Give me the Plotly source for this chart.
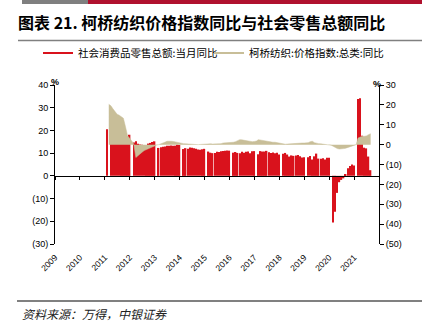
import pandas as pd
import plotly.graph_objects as go

# ---------------- data ----------------
# 社会消费品零售总额:当月同比 (%), monthly, Jan 2011 .. Aug 2021 (None = not published)
retail_2011 = [20.5, None, 17.4, 17.1, 16.9, 17.7, 17.2, 17.0, 17.7, 17.2, 17.3, 18.1]
retail_2012 = [None, 14.7, 15.2, 14.1, 13.8, 13.7, 13.1, 13.2, 14.2, 14.5, 14.9, 15.2]
retail_2013 = [None, 12.3, 12.6, 12.8, 12.9, 13.3, 13.2, 13.4, 13.3, 13.3, 13.7, 13.6]
retail_2014 = [None, 11.8, 12.2, 11.9, 12.5, 12.4, 12.2, 11.9, 11.6, 11.5, 11.7, 11.9]
retail_2015 = [None, 10.7, 10.2, 10.0, 10.1, 10.6, 10.5, 10.8, 10.9, 11.0, 11.2, 11.1]
retail_2016 = [None, 10.2, 10.5, 10.1, 10.0, 10.6, 10.2, 10.6, 10.7, 10.0, 10.8, 10.9]
retail_2017 = [None, 9.5, 10.9, 10.7, 10.7, 11.0, 10.4, 10.1, 10.3, 10.0, 10.2, 9.4]
retail_2018 = [None, 9.7, 10.1, 9.4, 8.5, 9.0, 8.8, 9.0, 9.2, 8.6, 8.1, 8.2]
retail_2019 = [None, 8.2, 8.7, 7.2, 8.6, 9.8, 7.6, 7.5, 7.8, 7.2, 8.0, 8.0]
retail_2020 = [None, -20.5, -15.8, -7.5, -2.8, -1.8, -1.1, 0.5, 3.3, 4.3, 5.0, 4.6]
retail_2021 = [None, 33.8, 34.2, 17.7, 12.4, 12.1, 8.5, 2.5]
retail_start = "2011-01-31"

# 柯桥纺织:价格指数:总类:同比 (%), monthly, Feb 2011 .. Aug 2021
keqiao_2011 = [20.3, 19.5, 18.0, 16.5, 15.3, 14.8, 14.2, 13.3, 9.0, 4.5, 3.2]
keqiao_2012 = [1.5, 0.5, -6.5, -5.5, -4.5, -3.8, -3.0, -2.5, -2.0, -1.6, -1.0, -0.5]
keqiao_2013 = [-0.2, 0.0, 0.3, 0.8, 1.2, 1.7, 1.8, 1.7, 1.6, 1.3, 1.0, 0.8]
keqiao_2014 = [0.7, 0.5, 0.4, 0.3, 0.2, 0.2, 0.2, 0.1, 0.0, 0.1, 0.2, 0.3]
keqiao_2015 = [0.5, 0.5, 0.4, 0.3, 0.3, 0.3, 0.3, 0.5, 0.8, 0.9, 0.8, 0.8]
keqiao_2016 = [1.0, 1.2, 1.5, 2.0, 2.5, 2.4, 2.2, 2.0, 1.6, 1.5, 1.5, 1.6]
keqiao_2017 = [1.8, 2.5, 2.3, 1.8, 1.6, 1.5, 1.4, 1.3, 1.2, 1.2, 1.0, 0.7]
keqiao_2018 = [0.4, 0.3, 0.2, 0.3, 0.4, 0.6, 0.7, 0.8, 0.7, 0.8, 0.8, 0.8]
keqiao_2019 = [0.9, 1.0, 1.5, 1.7, 1.0, 0.6, 0.5, 0.4, 0.3, 0.3, 0.2, 0.1]
keqiao_2020 = [-0.3, -0.8, -1.5, -2.0, -2.2, -2.2, -2.0, -1.8, -1.5, -1.2, -0.8, -0.3]
keqiao_2021 = [0.0, 3.3, 3.8, 4.2, 4.2, 4.4, 5.0, 5.5]
keqiao_start = "2011-02-28"

years = list(range(2009, 2022))
left_ticks = [-30, -20, -10, 0, 10, 20, 30, 40]
right_ticks = [-50, -40, -30, -20, -10, 0, 10, 20, 30]

name_retail = "社会消费品零售总额:当月同比"
name_keqiao = "柯桥纺织:价格指数:总类:同比"
title_text = "图表 21. 柯桥纺织价格指数同比与社会零售总额同比"
source_text = "资料来源：万得，中银证券"

# ---------------- build ----------------
retail = (retail_2011 + retail_2012 + retail_2013 + retail_2014 + retail_2015 + retail_2016
          + retail_2017 + retail_2018 + retail_2019 + retail_2020 + retail_2021)
keqiao = (keqiao_2011 + keqiao_2012 + keqiao_2013 + keqiao_2014 + keqiao_2015 + keqiao_2016
          + keqiao_2017 + keqiao_2018 + keqiao_2019 + keqiao_2020 + keqiao_2021)
retail_x = pd.date_range(retail_start, periods=len(retail), freq=pd.offsets.MonthEnd()).strftime("%Y-%m-%d")
keqiao_x = pd.date_range(keqiao_start, periods=len(keqiao), freq=pd.offsets.MonthEnd()).strftime("%Y-%m-%d")

def paren(v):
    return f"({abs(v)})" if v < 0 else str(v)

RED = "#D9121C"
BEIGE = "#C8BE98"
FONT = "Liberation Sans, Arial, Noto Sans CJK SC"
CJK = "Noto Sans CJK SC, Liberation Sans"

W, H = 422, 327
L, R, T, B = 55, 43, 85, 83
PW, PH = W - L - R, H - T - B

def px_x(x):
    return (x - L) / PW

def px_y(y):
    return (T + PH - y) / PH

xr = ["2009-01-01", "2022-01-01"]
year_ticks = [f"{y}-01-01" for y in years]

fig = go.Figure()
fig.add_trace(go.Bar(x=retail_x, y=retail, marker=dict(color=RED, line=dict(width=0)),
                     xaxis="x", yaxis="y", showlegend=False, name=name_retail))
fig.add_trace(go.Scatter(x=keqiao_x, y=keqiao, mode="lines", fill="tozeroy", fillcolor=BEIGE,
                         line=dict(color=BEIGE, width=0.5), xaxis="x2", yaxis="y2",
                         showlegend=False, name=name_keqiao))
# legend entries
fig.add_trace(go.Scatter(x=[None], y=[None], mode="lines", line=dict(color=RED, width=2),
                         name=name_retail, xaxis="x", yaxis="y", legend="legend"))
fig.add_trace(go.Scatter(x=[None], y=[None], mode="lines", line=dict(color=BEIGE, width=2),
                         name=name_keqiao, xaxis="x", yaxis="y", legend="legend2"))

axis_common = dict(showgrid=False, zeroline=False, linecolor="black", linewidth=1,
                   tickcolor="black", tickfont=dict(family=FONT, size=9, color="black"))

legend_common = dict(orientation="h", xref="container", yref="container",
                     xanchor="left", y=1 - 53 / H, yanchor="middle",
                     font=dict(family=CJK, size=10.5, color="black"),
                     bgcolor="rgba(0,0,0,0)", itemwidth=30)

fig.update_layout(
    width=W, height=H, autosize=False,
    margin=dict(l=L, r=R, t=T, b=B, pad=0),
    paper_bgcolor="white", plot_bgcolor="white",
    bargap=0.25,
    font=dict(family=FONT, color="black"),
    title=dict(text=title_text, xref="container", yref="container",
               x=18 / W, xanchor="left", y=1 - 23 / H, yanchor="middle",
               font=dict(family=CJK, size=16, color="black", weight="bold")),
    legend=dict(x=38 / W, **legend_common),
    legend2=dict(x=209 / W, **legend_common),
    xaxis=dict(type="date", range=xr, tickvals=year_ticks, ticktext=[str(y) for y in years],
               tickangle=-45, showline=False, ticks="", showgrid=False, zeroline=False,
               tickfont=dict(family=FONT, size=8.5, color="black"), ticklabelstandoff=6,
               anchor="y"),
    xaxis2=dict(type="date", range=xr, tickvals=year_ticks, overlaying="x", anchor="free",
                position=30 / 70, showticklabels=False, showline=True, ticks="outside",
                ticklen=3, **{k: v for k, v in axis_common.items() if k != "tickfont"}),
    yaxis=dict(range=[-30, 40], tickvals=left_ticks, ticktext=[paren(v) for v in left_ticks],
               showline=True, ticks="outside", ticklen=4, anchor="x", **axis_common),
    yaxis2=dict(range=[-50, 30], tickvals=right_ticks, ticktext=[paren(v) for v in right_ticks],
                showline=True, ticks="outside", ticklen=4, side="right", overlaying="y",
                anchor="x2", **axis_common),
)

# unit labels
fig.add_annotation(text="%", xref="paper", yref="paper", x=px_x(49), y=px_y(75),
                   showarrow=False, font=dict(family=FONT, size=9, color="black", weight="bold"))
fig.add_annotation(text="%", xref="paper", yref="paper", x=px_x(383), y=px_y(77),
                   showarrow=False, font=dict(family=FONT, size=9, color="black", weight="bold"))
# source
fig.add_annotation(text=source_text, xref="paper", yref="paper", x=px_x(20), y=px_y(313),
                   xanchor="left", yanchor="middle", showarrow=False,
                   font=dict(family=CJK, size=12, color="#222222", style="italic"))

# decorative header / rules
fig.add_shape(type="rect", xref="paper", yref="paper", x0=px_x(22), x1=px_x(88),
              y0=px_y(0), y1=px_y(4), fillcolor="#7F7F7F", line=dict(width=0), layer="above")
fig.add_shape(type="rect", xref="paper", yref="paper", x0=px_x(88), x1=px_x(422),
              y0=px_y(0), y1=px_y(4), fillcolor="#B0112E", line=dict(width=0), layer="above")
fig.add_shape(type="line", xref="paper", yref="paper", x0=px_x(18), x1=px_x(422),
              y0=px_y(40.5), y1=px_y(40.5), line=dict(color="#808080", width=1.5))
fig.add_shape(type="line", xref="paper", yref="paper", x0=px_x(17), x1=px_x(422),
              y0=px_y(301), y1=px_y(301), line=dict(color="#808080", width=2))

fig.write_html("out.html")
